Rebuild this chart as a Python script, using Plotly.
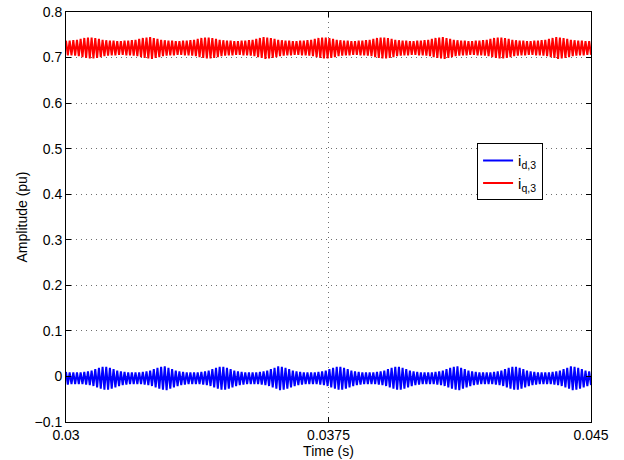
import numpy as np
import plotly.graph_objects as go

# Time window (s)
t_start = 0.03
t_end = 0.045

# Per-cycle upper / lower extremes, in milli-pu
blue_upper = [10, 9, 9, 9, 9, 10, 11, 13, 16, 19,
              21, 21, 19, 16, 13, 11, 10, 9, 9, 9, 9, 10, 11, 13, 16, 19,
              21, 22, 19, 16, 13, 11, 10, 9, 9, 9, 9, 10, 11, 13, 16, 19,
              21, 21, 19, 16, 13, 11, 10, 9, 9, 9, 9, 10, 11, 13, 16, 19,
              22, 21, 19, 16, 13, 11, 10, 9, 9, 9, 9, 10, 11, 13, 16, 19,
              21, 21, 19, 16, 13, 11, 10, 9, 9, 9, 9, 10, 11, 13, 16, 19,
              21, 21, 19, 16, 13, 11, 10, 9, 9, 9, 9, 10, 11, 13, 16, 19,
              21, 22, 19, 16, 13, 11, 10, 9, 9, 9, 9, 10, 11, 13, 16, 19,
              21, 21, 19, 16, 13, 11, 10, 9, 9, 9, 9, 10, 11, 13, 16, 19,
              22, 21, 19, 16, 13, 11]
blue_lower = [-18, -17, -17, -17, -17, -18, -19, -21, -24, -27,
              -29, -29, -27, -24, -21, -19, -18, -17, -17, -17, -17, -18, -19, -21, -24, -27,
              -29, -30, -27, -24, -21, -19, -18, -17, -17, -17, -17, -18, -19, -21, -24, -27,
              -29, -29, -27, -24, -21, -19, -18, -17, -17, -17, -17, -18, -19, -21, -24, -27,
              -30, -29, -27, -24, -21, -19, -18, -17, -17, -17, -17, -18, -19, -21, -24, -27,
              -29, -29, -27, -24, -21, -19, -18, -17, -17, -17, -17, -18, -19, -21, -24, -27,
              -29, -29, -27, -24, -21, -19, -18, -17, -17, -17, -17, -18, -19, -21, -24, -27,
              -29, -30, -27, -24, -21, -19, -18, -17, -17, -17, -17, -18, -19, -21, -24, -27,
              -29, -29, -27, -24, -21, -19, -18, -17, -17, -17, -17, -18, -19, -21, -24, -27,
              -30, -29, -27, -24, -21, -19]

red_upper = [737, 737, 738, 739, 741, 743,
             744, 744, 743, 741, 739, 738, 737, 737, 736, 736, 737, 737, 738, 739, 741, 743,
             744, 745, 743, 741, 739, 738, 737, 737, 736, 736, 737, 737, 738, 739, 741, 743,
             744, 744, 743, 741, 739, 738, 737, 737, 736, 736, 737, 737, 738, 739, 741, 743,
             745, 744, 743, 741, 739, 738, 737, 737, 736, 736, 737, 737, 738, 739, 741, 743,
             744, 744, 743, 741, 739, 738, 737, 737, 736, 736, 737, 737, 738, 739, 741, 743,
             744, 744, 743, 741, 739, 738, 737, 737, 736, 736, 737, 737, 738, 739, 741, 743,
             744, 745, 743, 741, 739, 738, 737, 737, 736, 736, 737, 737, 738, 739, 741, 743,
             744, 744, 743, 741, 739, 738, 737, 737, 736, 736, 737, 737, 738, 739, 741, 743,
             745, 744, 743, 741, 739, 738, 737, 737, 736, 736]
red_lower = [705, 705, 704, 703, 701, 699,
             698, 698, 699, 701, 703, 704, 705, 705, 706, 706, 705, 705, 704, 703, 701, 699,
             698, 697, 699, 701, 703, 704, 705, 705, 706, 706, 705, 705, 704, 703, 701, 699,
             698, 698, 699, 701, 703, 704, 705, 705, 706, 706, 705, 705, 704, 703, 701, 699,
             697, 698, 699, 701, 703, 704, 705, 705, 706, 706, 705, 705, 704, 703, 701, 699,
             698, 698, 699, 701, 703, 704, 705, 705, 706, 706, 705, 705, 704, 703, 701, 699,
             698, 698, 699, 701, 703, 704, 705, 705, 706, 706, 705, 705, 704, 703, 701, 699,
             698, 697, 699, 701, 703, 704, 705, 705, 706, 706, 705, 705, 704, 703, 701, 699,
             698, 698, 699, 701, 703, 704, 705, 705, 706, 706, 705, 705, 704, 703, 701, 699,
             697, 698, 699, 701, 703, 704, 705, 705, 706, 706]

x_tickvals = [0.03, 0.0375, 0.045]
x_ticktext = ["0.03", "0.0375", "0.045"]
y_tickvals = [-0.1, 0, 0.1, 0.2, 0.3, 0.4, 0.5, 0.6, 0.7, 0.8]
y_ticktext = ["\u22120.1", "0", "0.1", "0.2", "0.3", "0.4", "0.5", "0.6", "0.7", "0.8"]


def interleave(upper, lower):
    out = []
    for u, l in zip(upper, lower):
        out.append(u / 1000.0)
        out.append(l / 1000.0)
    return out


y_blue = interleave(blue_upper, blue_lower)
y_red = interleave(red_upper, red_lower)
t_blue = np.linspace(t_start, t_end, len(y_blue))
t_red = np.linspace(t_start, t_end, len(y_red))

fig = go.Figure()
fig.add_trace(go.Scatter(x=t_blue, y=y_blue, mode="lines",
                         line=dict(color="#0000ff", width=2),
                         name="i<sub>d,3</sub>"))
fig.add_trace(go.Scatter(x=t_red, y=y_red, mode="lines",
                         line=dict(color="#ff0000", width=2),
                         name="i<sub>q,3</sub>"))

FONT = "Liberation Sans, Arial, Helvetica, sans-serif"

axis_common = dict(
    showline=True, linecolor="black", linewidth=1, mirror="ticks",
    ticks="inside", ticklen=5, tickcolor="black",
    showgrid=True, gridcolor="#6f6f6f", griddash="1px,4px", gridwidth=1,
    zeroline=False, automargin=False,
    tickfont=dict(family=FONT, size=14, color="black"),
)

fig.update_layout(
    width=624, height=460,
    paper_bgcolor="white", plot_bgcolor="white",
    margin=dict(l=66, r=33, t=12, b=38, autoexpand=False),
    font=dict(family=FONT, size=14, color="black"),
    xaxis=dict(range=[t_start, t_end], tickvals=x_tickvals, ticktext=x_ticktext,
               title=dict(text="Time (s)", standoff=0, font=dict(size=14)),
               **axis_common),
    yaxis=dict(range=[-0.1, 0.8], tickvals=y_tickvals, ticktext=y_ticktext,
               title=dict(text="Amplitude (pu)", standoff=3, font=dict(size=14)),
               **axis_common),
    legend=dict(x=0.783, y=0.68, xanchor="left", yanchor="top",
                bgcolor="white", bordercolor="black", borderwidth=1,
                font=dict(size=15), itemwidth=30, tracegroupgap=0),
    showlegend=True,
)

fig.write_html(
    "out.html",
    config={"displayModeBar": False},
    post_script="document.body.style.margin='0';document.body.style.padding='0';"
                "document.body.style.overflow='hidden';",
)
